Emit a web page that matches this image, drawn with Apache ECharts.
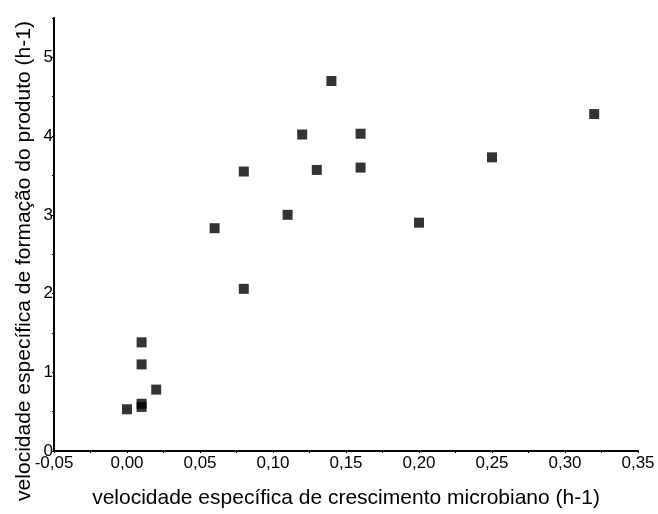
<!DOCTYPE html>
<html>
<head>
<meta charset="utf-8">
<script src="https://cdn.jsdelivr.net/npm/echarts@6/dist/echarts.min.js"></script>
<style>
  html, body { margin: 0; padding: 0; background: #fff; }
  #chart { width: 658px; height: 514px; }
</style>
</head>
<body>
<div id="chart"></div>
<script>
  // velocidade específica de crescimento (h-1)
  var mu = [0.14, 0.12, 0.16, 0.32, 0.25, 0.08, 0.13, 0.16, 0.11, 0.06, 0.20, 0.08, 0.01, 0.01, 0.02, 0.01, 0.01, 0.00]
  // velocidade específica de formação do produto (h-1)
  var qp = [4.70, 4.02, 4.03, 4.28, 3.73, 3.55, 3.57, 3.60, 3.00, 2.83, 2.90, 2.06, 1.38, 1.10, 0.78, 0.60, 0.56, 0.53]
  var xName = 'velocidade específica de crescimento microbiano (h-1)'
  var yName = 'velocidade específica de formação do produto (h-1)'

  var font = 'Liberation Sans, Arial, sans-serif'
  var points = []
  for (var i = 0; i < mu.length; i++) {
    points.push([mu[i], qp[i]])
  }

  var chart = echarts.init(document.getElementById('chart'))
  var option = {
    animation: false,
    backgroundColor: '#fff',
    grid: {
      left: 54,
      right: 20,
      top: 18,
      bottom: 55,
    },
    xAxis: {
      type: 'value',
      min: -0.05,
      max: 0.35,
      interval: 0.025,
      name: xName,
      nameLocation: 'middle',
      nameGap: 37,
      nameTextStyle: { color: '#000', fontSize: 21, fontFamily: font },
      axisLine: { show: true, onZero: false, lineStyle: { color: '#000', width: 2 } },
      axisTick: { show: true, length: 2, lineStyle: { color: '#000' } },
      splitLine: { show: false },
      axisLabel: {
        color: '#000',
        fontSize: 17,
        fontFamily: font,
        margin: 4,
        formatter: function (v) {
          var k = Math.round(v * 1000)
          if (k % 50 !== 0) return ''
          return (k / 1000).toFixed(2).replace('.', ',')
        },
      },
    },
    yAxis: {
      type: 'value',
      min: 0,
      max: 5.5,
      interval: 0.5,
      axisLine: { show: true, onZero: false, lineStyle: { color: '#000', width: 2 } },
      axisTick: { show: true, length: 2, lineStyle: { color: '#000' } },
      splitLine: { show: false },
      axisLabel: {
        color: '#000',
        fontSize: 17,
        fontFamily: font,
        margin: 1,
        formatter: function (v) {
          var k = Math.round(v * 10)
          if (k % 10 !== 0) return ''
          return String(k / 10)
        },
      },
    },
    graphic: [{
      type: 'text',
      x: 24,
      y: 261,
      rotation: Math.PI / 2,
      style: {
        text: yName,
        fill: '#000',
        font: '21px ' + font,
        textAlign: 'center',
        textVerticalAlign: 'middle',
      },
    }],
    series: [{
      type: 'scatter',
      symbol: 'rect',
      symbolSize: 10,
      itemStyle: { color: '#000' },
      data: points,
    }],
  }
  chart.setOption(option)
</script>
</body>
</html>
